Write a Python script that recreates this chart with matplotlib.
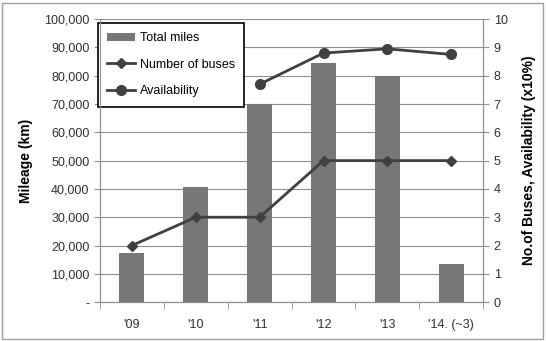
import matplotlib.pyplot as plt
import numpy as np

plt.rcParams['font.family'] = ['Liberation Sans', 'DejaVu Sans']

years = ["'09", "'10", "'11", "'12", "'13", "'14. (~3)"]
total_miles = [17400, 40600, 70000, 84500, 80000, 13400]
num_buses = [2, 3, 3, 5, 5, 5]
avail_years = ["'11", "'12", "'13", "'14. (~3)"]
availability = [7.7, 8.8, 8.95, 8.75]

x = np.arange(len(years))
ax_pos = [years.index(y) for y in avail_years]

fig = plt.figure(figsize=(5.46, 3.41), dpi=100)
fig.patches.append(plt.Rectangle((0.004, 0.006), 0.99, 0.985, transform=fig.transFigure,
                                 fill=False, edgecolor='#a0a0a0', linewidth=1))
ax = fig.add_axes([0.183, 0.114, 0.702, 0.83])
ax2 = ax.twinx()

bars = ax.bar(x, total_miles, width=0.39, color='#777777', label='Total miles', zorder=2)
l1, = ax2.plot(x, num_buses, color='#404040', marker='D', markersize=5, linewidth=2,
               label='Number of buses')
l2, = ax2.plot(ax_pos, availability, color='#404040', marker='o', markersize=7, linewidth=2,
               label='Availability')

ax.set_ylim(0, 100000)
ax.set_xlim(-0.5, len(years) - 0.5)
ax.set_yticks(np.arange(0, 100001, 10000))
ax.set_yticklabels(['-'] + [f'{v:,}' for v in range(10000, 100001, 10000)])
ax2.set_ylim(0, 10)
ax2.set_yticks(range(0, 11))

ax.set_xticks(x)
ax.set_xticklabels(years)
ax.set_xticks(np.arange(-0.5, len(years), 1), minor=True)
ax.tick_params(axis='x', which='major', length=0, pad=12, labelsize=9, colors='#303030')
ax.tick_params(axis='x', which='minor', length=5, color='#909090', direction='out')
ax.tick_params(axis='y', length=4, color='#909090', labelsize=9, colors='#303030')
ax2.tick_params(axis='y', length=4, color='#909090', labelsize=9, colors='#303030')
for a in (ax, ax2):
    a.spines['top'].set_visible(False)
    for s in ('left', 'right', 'bottom'):
        a.spines[s].set_color('#909090')
ax.yaxis.grid(True, color='#909090', linewidth=0.8, zorder=0)
ax.set_axisbelow(True)

ax.set_ylabel('Mileage (km)', fontsize=10, fontweight='bold', labelpad=8)
ax2.set_ylabel('No.of Buses, Availability (x10%)', fontsize=10, fontweight='bold', labelpad=10)

leg = ax.legend([bars, l1, l2], ['Total miles', 'Number of buses', 'Availability'],
                loc='upper left', bbox_to_anchor=(-0.005, 0.986), borderaxespad=0,
                fontsize=9, fancybox=False, edgecolor='black', framealpha=1,
                handlelength=2.2, handletextpad=0.4, labelspacing=1.15, borderpad=0.75)
leg.get_frame().set_linewidth(1.2)

fig.savefig('out.png', dpi=100)
